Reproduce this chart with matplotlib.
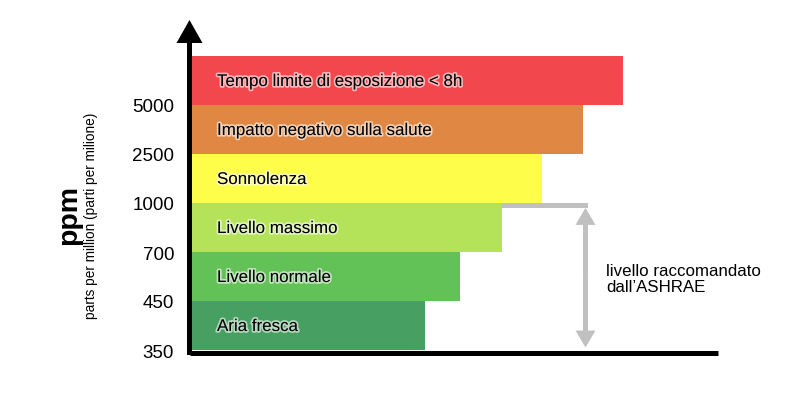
import matplotlib
matplotlib.use("Agg")
import matplotlib.pyplot as plt
import matplotlib.patheffects as pe
from matplotlib.patches import FancyArrow

plt.rcParams['font.family'] = ['Liberation Sans', 'DejaVu Sans']

# data
levels = ["Aria fresca", "Livello normale", "Livello massimo",
          "Sonnolenza", "Impatto negativo sulla salute",
          "Tempo limite di esposizione < 8h"]
bar_lengths = [233, 268, 310, 350, 391, 431]
bar_colors = ["#47A062", "#62C257", "#B4E35A", "#FDFD4A", "#E08843", "#F2474D"]
tick_labels = ["350", "450", "700", "1000", "2500", "5000"]
ashrae_top = 3  # index of the 1000 ppm level

fig = plt.figure(figsize=(8.1, 4.0), dpi=100)
ax = fig.add_axes([192 / 810, 50 / 400, 526 / 810, 330 / 400])
ax.set_xlim(0, 526)
ax.set_ylim(0, 330 / 49)
ax.axis("off")

rows = list(range(len(levels)))
ax.barh([r + 0.5 for r in rows], bar_lengths, height=1.0, color=bar_colors, align="center")

halo = [pe.withStroke(linewidth=2.5, foreground=(1, 1, 1, 0.6))]
for r, name in zip(rows, levels):
    ax.text(25, r + 0.5 - 1 / 49, name, fontsize=12.2, va="center", ha="left",
            color="black", path_effects=halo)

# tick labels
for r, lab in zip(rows, tick_labels):
    ax.text(-18, r - 3 / 49, lab, fontsize=13.5, ha="right", va="center", clip_on=False)

# axes with arrow
ax.plot([-2.5, 526], [-2.5 / 49, -2.5 / 49], color="black", lw=3.6,
        solid_capstyle="butt", clip_on=False)
ax.add_patch(FancyArrow(-2.5, -5 / 49, 0, 330 / 49 + 5 / 49, width=5, head_width=26,
                        head_length=23 / 49, length_includes_head=True,
                        color="black", lw=0, clip_on=False))

# ASHRAE recommended range
gray = "#C0C0C0"
ax.barh(ashrae_top - 0.05, 86, left=bar_lengths[ashrae_top - 1], height=0.1, color=gray)
mid = (ashrae_top - 0.1) / 2
for end in (ashrae_top - 0.1, 0.05):
    ax.add_patch(FancyArrow(393.5, mid, 0, end - mid, width=5, head_width=20,
                            head_length=17 / 49, length_includes_head=True,
                            color=gray, lw=0))
ax.text(414, 1.44, "livello raccomandato\ndall\u2019ASHRAE", fontsize=12.2,
        ha="left", va="center", linespacing=1.05)

# y label
fig.text(69 / 810, 1 - 215 / 400, "ppm", rotation=90, fontsize=20.5,
         fontweight="bold", ha="center", va="center")
fig.text(91 / 810, 1 - 216 / 400, "parts per million (parti per milione)",
         rotation=90, fontsize=9.8, ha="center", va="center")

fig.savefig("out.png", dpi=100)
